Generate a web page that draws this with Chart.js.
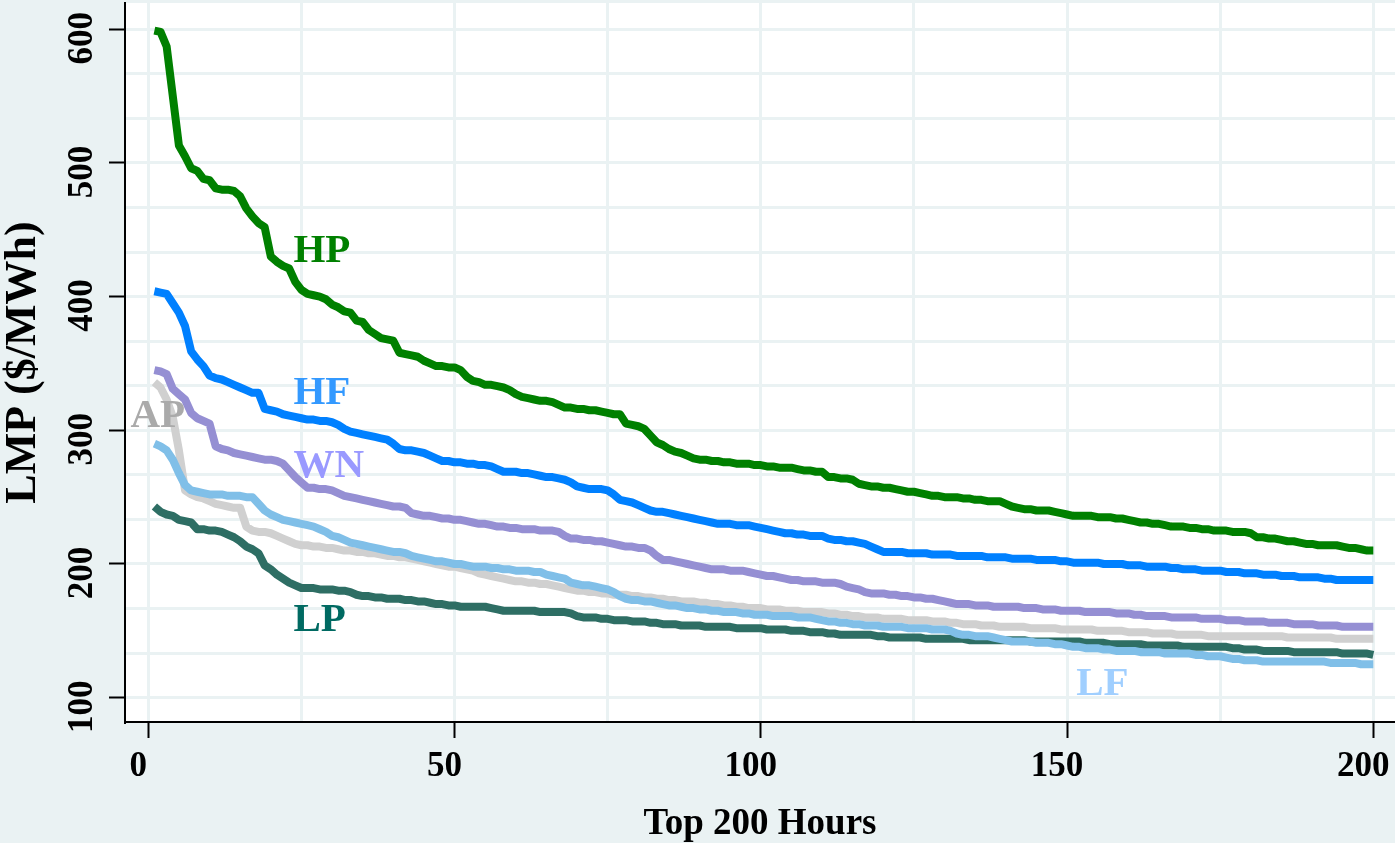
<!DOCTYPE html>
<html>
<head>
<meta charset="utf-8">
<script src="https://cdn.jsdelivr.net/npm/chart.js@4.4.1/dist/chart.umd.min.js"></script>
<style>
  html, body { margin: 0; padding: 0; background: #EAF2F3; }
  canvas { display: block; }
</style>
</head>
<body>
<canvas id="c" width="1395" height="843"></canvas>
<script>
// ---- Data (LMP $/MWh for the top 200 hours, sorted descending) ----
const seriesNames = ["HP", "HF", "WN", "AP", "LP", "LF"];

const HP = [
599,598,587,550,513,505,496,494,488,487,
481,480,480,479,475,466,460,455,452,430,
426,423,421,411,405,402,401,400,398,394,
392,389,388,382,381,375,372,369,368,367,
358,357,356,355,352,350,348,348,347,347,
345,340,337,336,334,334,333,332,330,327,
325,324,323,322,322,321,319,317,317,316,
316,315,315,314,313,312,312,305,304,303,
301,296,291,289,286,284,283,281,279,278,
278,277,277,276,276,275,275,275,274,274,
273,273,272,272,272,271,270,270,269,269,
265,265,264,264,263,260,259,258,258,257,
257,256,255,254,254,253,252,251,251,250,
250,250,249,249,248,248,247,247,247,245,
243,242,241,241,240,240,240,239,238,237,
236,236,236,236,235,235,235,234,234,233,
232,231,231,230,230,229,228,228,228,227,
227,226,226,225,225,225,224,224,224,223,
220,220,219,219,218,217,217,216,215,215,
214,214,214,214,213,212,212,211,210,210];

const HF = [
404,403,402,395,388,378,359,353,348,341,
339,338,336,334,332,330,328,328,316,315,
314,312,311,310,309,308,308,307,307,306,
304,301,299,298,297,296,295,294,293,290,
286,285,285,284,283,281,279,277,277,276,
276,275,275,274,274,273,271,269,269,269,
268,268,267,266,265,265,264,263,261,258,
257,256,256,256,255,252,248,247,246,244,
242,240,239,239,238,237,236,235,234,233,
232,231,230,230,230,229,229,229,228,227,
226,225,224,223,223,222,222,221,221,221,
219,218,218,217,217,216,215,213,211,209,
209,209,209,208,208,208,208,207,207,207,
207,206,206,206,206,206,205,205,205,205,
204,204,204,204,203,203,203,203,202,202,
201,201,201,201,201,200,200,200,200,199,
199,199,198,198,198,198,197,197,196,196,
196,195,195,195,195,194,194,194,193,193,
193,192,192,192,191,191,191,190,190,190,
190,189,189,188,188,188,188,188,188,188];

const WN = [
345,344,342,331,327,323,313,309,307,305,
288,286,285,283,282,281,280,279,278,278,
277,275,270,265,261,257,257,256,256,255,
253,251,250,249,248,247,246,245,244,243,
243,242,238,237,236,236,235,234,234,233,
233,232,231,230,230,229,228,228,227,227,
226,226,226,225,225,225,224,221,219,219,
218,218,217,217,216,215,214,213,213,212,
212,210,206,203,203,202,201,200,199,198,
197,196,196,196,195,195,195,194,193,192,
191,191,190,189,188,188,187,187,187,186,
186,186,185,183,182,181,179,178,178,178,
177,177,176,176,175,175,174,174,173,172,
171,170,170,170,169,169,169,168,168,168,
168,168,167,167,167,166,166,166,165,165,
165,165,164,164,164,164,164,163,163,163,
162,162,161,161,161,161,160,160,160,160,
160,159,159,159,159,158,158,158,157,157,
157,157,156,156,156,156,155,155,155,155,
154,154,154,154,153,153,153,153,153,153];

const AP = [
336,332,323,310,285,255,252,250,249,247,
245,244,243,242,242,228,225,224,224,223,
221,219,217,215,214,214,213,213,212,212,
211,210,210,209,209,208,208,207,206,206,
205,205,204,203,202,201,200,199,198,198,
197,196,195,193,192,191,190,189,188,187,
187,186,186,185,185,184,183,182,181,180,
180,179,179,178,178,177,177,177,176,176,
175,175,174,174,173,173,172,172,172,171,
171,170,170,169,169,168,168,167,167,167,
166,166,166,165,165,165,164,164,164,164,
163,163,162,162,161,161,160,160,160,159,
159,159,159,158,158,158,158,157,157,157,
156,156,155,155,155,154,154,154,153,153,
153,153,153,152,152,152,152,152,151,151,
151,151,151,151,150,150,150,150,150,149,
149,149,149,148,148,148,148,147,147,147,
147,147,146,146,146,146,146,146,146,146,
146,146,146,146,146,145,145,145,145,145,
145,145,145,144,144,144,144,144,144,144];

const LP = [
243,239,237,236,233,232,231,226,226,225,
225,224,222,220,217,213,211,208,199,196,
192,189,186,184,182,182,182,181,181,181,
180,180,179,177,176,176,175,175,174,174,
174,173,173,172,172,171,170,170,169,169,
168,168,168,168,168,167,166,165,165,165,
165,165,165,164,164,164,164,164,163,161,
160,160,160,159,159,158,158,158,157,157,
157,156,156,155,155,155,154,154,154,154,
153,153,153,153,153,152,152,152,152,152,
151,151,151,151,150,150,150,149,149,149,
148,148,147,147,147,147,147,147,146,146,
145,145,145,145,145,145,144,144,144,144,
144,144,144,143,143,143,143,143,143,143,
143,143,143,142,142,142,142,142,142,142,
142,142,141,141,141,141,140,140,140,140,
140,140,139,139,139,139,139,139,138,138,
138,138,138,138,138,138,137,137,136,136,
136,135,135,135,135,135,134,134,134,134,
134,134,134,134,133,133,133,133,133,132];

const LF = [
290,288,285,278,268,259,255,254,253,252,
252,252,251,251,251,250,250,245,240,237,
235,233,232,231,230,229,228,226,224,221,
220,218,216,215,214,213,212,211,210,209,
209,208,206,205,204,203,202,202,201,200,
200,199,198,198,198,197,197,196,196,195,
195,195,194,194,192,191,190,189,186,185,
184,184,183,182,181,179,176,174,173,173,
172,172,171,170,169,169,168,167,167,166,
166,165,165,164,164,164,163,163,162,162,
162,161,161,161,161,160,160,160,159,158,
157,157,156,156,155,155,154,154,154,153,
153,153,153,152,152,152,152,151,151,151,
150,148,147,147,146,146,146,145,144,143,
142,142,142,142,141,141,141,140,140,139,
138,138,137,137,137,136,136,135,135,135,
135,134,134,134,134,133,133,133,133,133,
132,132,131,131,131,130,129,129,128,128,
128,127,127,127,127,127,127,127,127,127,
127,127,126,126,126,126,126,125,125,125];

// Tick values / labels
const xTickLabels = [0, 50, 100, 150, 200];
const xGridValues = [0, 25, 50, 75, 100, 125, 150, 175, 200];
const yTickLabels = [100, 200, 300, 400, 500, 600];
const yGridValues = [100, 133.333, 166.667, 200, 233.333, 266.667, 300, 333.333, 366.667,
                     400, 433.333, 466.667, 500, 533.333, 566.667, 600];

// In-plot series labels (data coordinates of the label's left edge / vertical centre)
const labelX = [23.7, 23.7, 23.7, -2.9, 23.7, 151.5];
const labelY = [434, 327.6, 272.8, 310.4, 157.5, 109.7];

// ---- Styles ----
const lineColors  = ["#008000", "#0080FF", "#958FD3", "#D0D0D0", "#2E6E64", "#80BFE8"];
const labelColors = ["#008000", "#3399FF", "#9999FF", "#AAAAAA", "#006A62", "#A0CFFF"];
const drawOrder   = [6, 5, 4, 3, 2, 1];
const seriesData  = [HP, HF, WN, AP, LP, LF];
const bgOuter = "#EAF2F3";
const gridColor = "#EAF2F3";
const FONT = "'Liberation Serif', 'Times New Roman', serif";

const hours = Array.from({length: 200}, (_, i) => i + 1);

const datasets = seriesNames.map((name, k) => ({
  label: name,
  data: seriesData[k].map((v, i) => ({x: hours[i], y: v})),
  borderColor: lineColors[k],
  borderWidth: 8,
  pointRadius: 0,
  tension: 0,
  fill: false,
  borderJoinStyle: 'round',
  borderCapStyle: 'butt',
  order: drawOrder[k]
}));

const bgPlugin = {
  id: 'bg',
  beforeDraw(chart) {
    const {ctx, chartArea: a} = chart;
    ctx.save();
    ctx.fillStyle = bgOuter;
    ctx.fillRect(0, 0, chart.width, chart.height);
    ctx.fillStyle = '#FFFFFF';
    ctx.fillRect(a.left, a.top, a.right - a.left, a.bottom - a.top);
    ctx.restore();
  }
};

const labelPlugin = {
  id: 'seriesLabels',
  afterDatasetsDraw(chart) {
    const {ctx} = chart;
    const xs = chart.scales.x, ys = chart.scales.y;
    ctx.save();
    ctx.font = "bold 41px " + FONT;
    ctx.textAlign = 'left';
    ctx.textBaseline = 'middle';
    seriesNames.forEach((name, k) => {
      ctx.fillStyle = labelColors[k];
      ctx.fillText(name, xs.getPixelForValue(labelX[k]), ys.getPixelForValue(labelY[k]));
    });
    ctx.restore();
  }
};

const isLabeled = (arr, v) => arr.some(t => Math.abs(t - v) < 1e-3);

new Chart(document.getElementById('c'), {
  type: 'line',
  data: { datasets },
  plugins: [bgPlugin, labelPlugin],
  options: {
    responsive: false,
    animation: false,
    devicePixelRatio: 1,
    events: [],
    layout: { padding: { top: 3, right: 0, bottom: 0, left: 0 } },
    plugins: { legend: { display: false }, tooltip: { enabled: false } },
    scales: {
      x: {
        type: 'linear',
        min: -3.8,
        max: 203.54,
        afterBuildTicks: (s) => { s.ticks = xGridValues.map(v => ({value: v})); },
        afterFit: (s) => { s.height = 121; s.paddingLeft = 0; s.paddingRight = 0; },
        grid: {
          color: gridColor,
          lineWidth: 3,
          tickLength: 16,
          tickWidth: 2,
          tickColor: (c) => (c.tick && isLabeled(xTickLabels, c.tick.value)) ? '#000000' : 'rgba(0,0,0,0)'
        },
        border: { display: true, color: '#000000', width: 2 },
        ticks: {
          autoSkip: false,
          maxRotation: 0,
          minRotation: 0,
          padding: 8,
          labelOffset: -10,
          color: '#000000',
          font: { family: FONT, size: 35, weight: 'bold' },
          callback: (v) => isLabeled(xTickLabels, v) ? String(Math.round(v)) : ''
        },
        title: {
          display: true,
          text: 'Top 200 Hours',
          color: '#000000',
          font: { family: FONT, size: 37, weight: 'bold', lineHeight: 1 },
          padding: { top: 0, bottom: 0 }
        }
      },
      y: {
        type: 'linear',
        min: 81.8,
        max: 619.6,
        afterBuildTicks: (s) => { s.ticks = yGridValues.map(v => ({value: v})); },
        afterFit: (s) => { s.width = 125; s.paddingTop = 0; s.paddingBottom = 0; },
        grid: {
          color: gridColor,
          lineWidth: 3,
          tickLength: 16,
          tickWidth: 2,
          tickColor: (c) => (c.tick && isLabeled(yTickLabels, c.tick.value)) ? '#000000' : 'rgba(0,0,0,0)'
        },
        border: { display: true, color: '#000000', width: 2 },
        ticks: {
          autoSkip: false,
          minRotation: 90,
          maxRotation: 90,
          crossAlign: 'center',
          padding: 0,
          labelOffset: 9,
          color: '#000000',
          font: { family: FONT, size: 35, weight: 'bold' },
          callback: (v) => isLabeled(yTickLabels, v) ? String(Math.round(v)) : ''
        },
        title: {
          display: true,
          text: 'LMP ($/MWh)',
          color: '#000000',
          font: { family: FONT, size: 44, weight: 'bold', lineHeight: 1 },
          padding: { top: 2, bottom: 0 }
        }
      }
    }
  }
});
</script>
</body>
</html>
